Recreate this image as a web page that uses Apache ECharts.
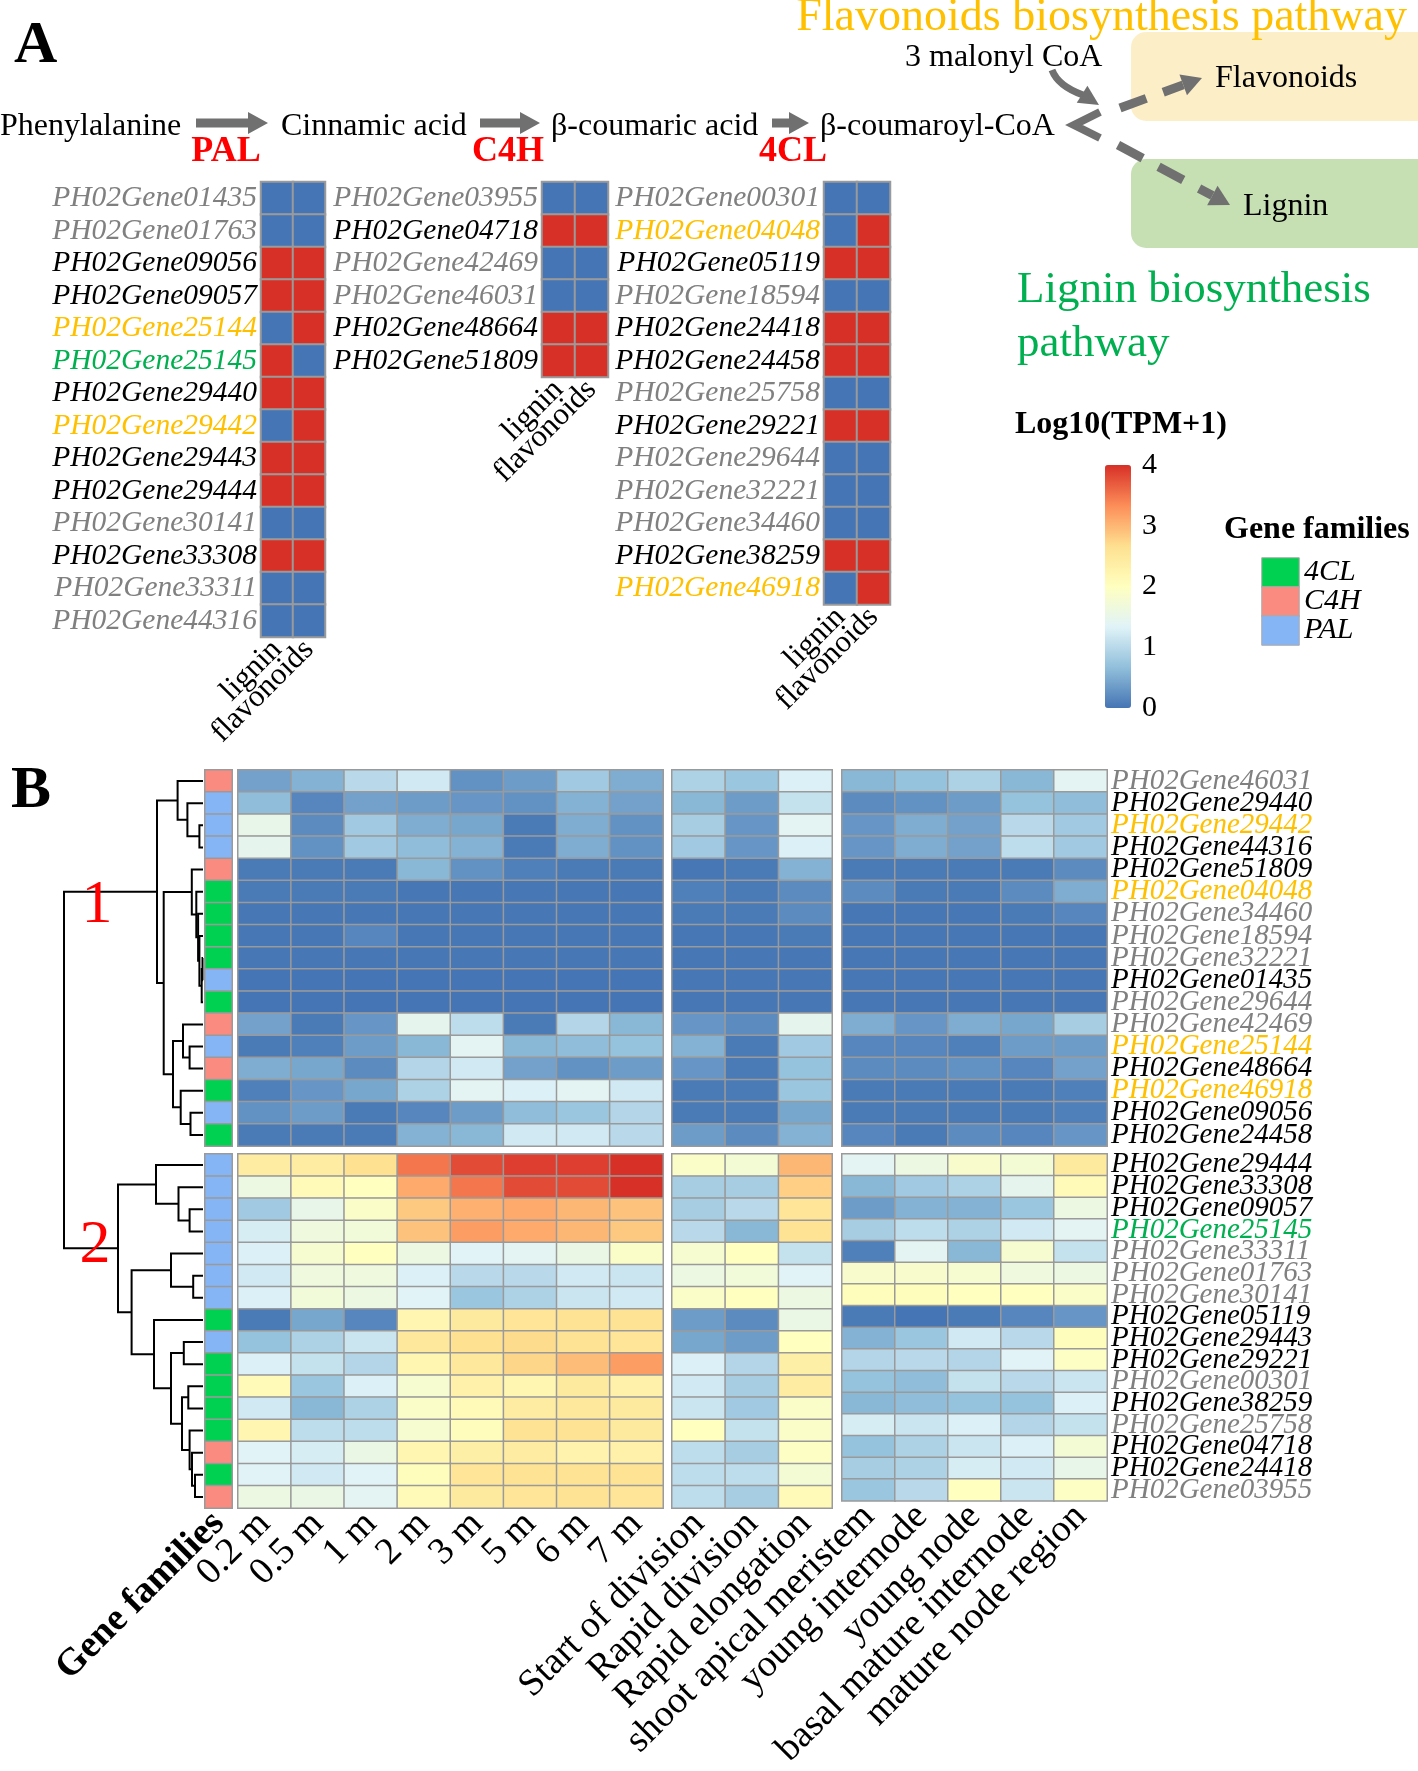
<!DOCTYPE html>
<html><head><meta charset="utf-8">
<script src="https://cdn.jsdelivr.net/npm/echarts@6/dist/echarts.min.js"></script>
<style>html,body{margin:0;padding:0;background:#fff}#c{width:1418px;height:1771px}</style>
</head><body><div id="c"></div>
<script>
// ---------------- DATA ----------------
const aColumns = ['lignin', 'flavonoids'];
const palGenes = ['PH02Gene01435','PH02Gene01763','PH02Gene09056','PH02Gene09057','PH02Gene25144','PH02Gene25145','PH02Gene29440','PH02Gene29442','PH02Gene29443','PH02Gene29444','PH02Gene30141','PH02Gene33308','PH02Gene33311','PH02Gene44316'];
const palValues = [[0,0],[0,0],[1,1],[1,1],[0,1],[1,0],[1,1],[0,1],[1,1],[1,1],[0,0],[1,1],[0,0],[0,0]];
const c4hGenes = ['PH02Gene03955','PH02Gene04718','PH02Gene42469','PH02Gene46031','PH02Gene48664','PH02Gene51809'];
const c4hValues = [[0,0],[1,1],[0,0],[0,0],[1,1],[1,1]];
const cl4Genes = ['PH02Gene00301','PH02Gene04048','PH02Gene05119','PH02Gene18594','PH02Gene24418','PH02Gene24458','PH02Gene25758','PH02Gene29221','PH02Gene29644','PH02Gene32221','PH02Gene34460','PH02Gene38259','PH02Gene46918'];
const cl4Values = [[0,0],[0,1],[1,1],[0,0],[1,1],[1,1],[0,0],[1,1],[0,0],[0,0],[0,0],[1,1],[0,1]];

const familyNames = ['4CL', 'C4H', 'PAL'];

const bGenes = ['PH02Gene46031','PH02Gene29440','PH02Gene29442','PH02Gene44316','PH02Gene51809','PH02Gene04048','PH02Gene34460','PH02Gene18594','PH02Gene32221','PH02Gene01435','PH02Gene29644','PH02Gene42469','PH02Gene25144','PH02Gene48664','PH02Gene46918','PH02Gene09056','PH02Gene24458',
  'PH02Gene29444','PH02Gene33308','PH02Gene09057','PH02Gene25145','PH02Gene33311','PH02Gene01763','PH02Gene30141','PH02Gene05119','PH02Gene29443','PH02Gene29221','PH02Gene00301','PH02Gene38259','PH02Gene25758','PH02Gene04718','PH02Gene24418','PH02Gene03955'];
const cluster1Size = 17;
// label colour class: g grey, k black, o orange, n green
const bLabelClass = ['g','k','o','k','k','o','g','g','g','k','g','g','o','k','o','k','k',
  'k','k','k','n','g','g','g','k','k','k','g','k','g','k','k','g'];

const stageCols = ['0.2 m','0.5 m','1 m','2 m','3 m','5 m','6 m','7 m'];
const zoneCols = ['Start of division','Rapid division','Rapid elongation'];
const tissueCols = ['shoot apical meristem','young internode','young node','basal mature internode','mature node region'];

const stageValues = [
  [0.4,0.55,1.0,1.2,0.25,0.35,0.8,0.5],
  [0.65,0.15,0.4,0.35,0.3,0.25,0.55,0.4],
  [1.5,0.2,0.8,0.5,0.45,0.05,0.5,0.25],
  [1.45,0.25,0.8,0.65,0.55,0.05,0.5,0.25],
  [0.05,0.05,0.05,0.6,0.25,0.1,0.05,0.05],
  [0.05,0.05,0.05,0.02,0.02,0.02,0.02,0.02],
  [0.02,0.02,0.02,0.02,0.02,0.02,0.02,0.02],
  [0.02,0.02,0.15,0.02,0.02,0.02,0.02,0.02],
  [0.02,0.02,0.02,0.02,0.02,0.02,0.02,0.02],
  [0,0,0,0,0,0,0,0],
  [0,0,0,0,0,0,0,0],
  [0.4,0.05,0.3,1.45,1.05,0.05,0.95,0.6],
  [0.05,0.1,0.35,0.6,1.4,0.6,0.65,0.7],
  [0.5,0.45,0.2,0.95,1.2,0.4,0.25,0.35],
  [0.1,0.3,0.45,0.9,1.4,1.3,1.4,1.2],
  [0.25,0.35,0.05,0.15,0.35,0.65,0.75,0.95],
  [0.05,0.05,0.05,0.55,0.6,1.2,1.2,1.0],
  [2.4,2.4,2.65,3.5,3.8,3.9,3.9,4.0],
  [1.6,2.1,2.0,3.1,3.5,3.8,3.8,4.0],
  [0.8,1.5,1.9,2.85,3.05,3.1,3.0,2.9],
  [1.25,1.65,1.7,2.9,3.2,3.1,3.0,2.85],
  [1.3,1.8,2.0,1.6,1.35,1.4,1.55,1.9],
  [1.2,1.65,1.65,1.3,1.0,1.0,1.2,1.15],
  [1.3,1.7,1.6,1.35,0.75,0.9,1.15,1.2],
  [0.05,0.45,0.15,2.2,2.45,2.55,2.6,2.6],
  [0.7,0.9,1.15,2.5,2.65,2.7,2.6,2.55],
  [1.3,1.1,0.95,2.2,2.5,2.75,2.95,3.2],
  [2.1,0.75,1.3,1.8,2.3,2.2,2.45,2.3],
  [1.2,0.6,0.9,1.9,2.1,2.4,2.5,2.45],
  [2.2,1.05,1.05,1.8,2.05,2.6,2.6,2.45],
  [1.35,1.25,1.55,2.2,2.35,2.4,2.25,2.3],
  [1.35,1.2,1.35,2.05,2.55,2.6,2.6,2.6],
  [1.6,1.55,1.4,2.1,2.45,2.55,2.6,2.55]
];
const zoneValues = [
  [0.9,0.75,1.3],[0.6,0.35,1.1],[0.85,0.3,1.4],[0.8,0.3,1.3],[0.02,0.05,0.55],[0.1,0.05,0.2],[0.05,0.05,0.2],[0.02,0.02,0.05],[0.02,0.02,0.02],[0.02,0.02,0.02],[0.02,0.02,0.02],
  [0.3,0.2,1.45],[0.55,0.05,0.8],[0.3,0.05,0.7],[0.05,0.05,0.75],[0.05,0.05,0.45],[0.35,0.2,0.55],
  [1.9,1.75,3.0],[0.85,0.85,2.8],[0.85,1.0,2.55],[1.0,0.6,2.6],[1.8,2.0,1.1],[1.6,1.7,1.35],[1.9,2.0,1.6],[0.35,0.2,1.55],[0.45,0.35,2.0],[1.3,0.95,2.35],[1.2,0.85,2.4],[1.15,0.8,1.9],[2.0,1.1,1.9],[1.05,0.85,1.95],[1.05,1.05,1.75],[1.05,0.85,2.1]
];
const tissueValues = [
  [0.6,0.7,0.9,0.6,1.4],[0.2,0.25,0.35,0.7,0.65],[0.3,0.5,0.4,1.0,0.8],[0.3,0.5,0.4,1.05,0.8],[0.05,0.05,0.05,0.05,0.2],[0.2,0.05,0.05,0.2,0.5],[0.02,0.02,0.02,0.05,0.15],[0.02,0.02,0.02,0.02,0.02],[0.02,0.02,0.02,0.02,0.02],[0.02,0.02,0.02,0.02,0.02],[0.02,0.02,0.02,0.02,0.02],
  [0.5,0.3,0.5,0.45,0.85],[0.15,0.15,0.1,0.35,0.35],[0.2,0.2,0.25,0.15,0.4],[0.05,0.05,0.05,0.05,0.1],[0.05,0.05,0.05,0.05,0.1],[0.15,0.05,0.2,0.15,0.3],
  [1.4,1.6,1.85,1.75,2.45],[0.6,0.8,0.9,1.45,2.1],[0.35,0.55,0.55,0.75,1.6],[0.85,1.05,0.9,1.2,1.4],[0.1,1.4,0.6,1.8,1.1],[1.85,1.85,1.8,1.65,1.6],[2.05,2.05,2.0,2.0,1.9],[0.05,0.0,0.05,0.15,0.3],[0.55,0.75,1.2,1.0,2.05],[0.95,1.0,0.95,1.35,1.95],[0.7,0.65,1.1,1.0,1.15],[0.6,0.65,0.7,0.7,1.3],[1.25,1.15,1.3,0.95,1.1],[0.7,0.9,1.15,1.3,1.75],[0.85,0.9,1.25,1.2,1.5],[0.75,1.0,2.0,1.15,1.95]
];
// dendrogram merges: [childA, childB, height]; leaves 0..32, internal nodes numbered from 33 in order
const dendroMerges = [
  [2,3,3.6],[1,33,15.6],[0,34,25.4],
  [8,9,0.5],[36,10,1.3],[7,37,3.6],[6,38,4.9],[5,39,6.7],[4,40,11.2],
  [12,13,13.4],[11,42,20],[15,16,12.5],[14,44,22.3],[43,45,30],[41,46,39.3],[35,47,46],
  [19,20,13.4],[18,49,24.5],[17,50,47],[22,23,9.8],[21,52,32],[25,26,19.2],[27,28,14.7],
  [31,32,8],[30,56,11],[29,57,13.4],[55,58,21],[54,59,32],[24,60,49],[53,61,71.4],[51,62,85],[48,63,139]
];

// ---------------- STYLE / LAYOUT ----------------
const SERIF = '"Liberation Serif", "Times New Roman", serif';
const heatColors = ['#4575B4','#91BFDB','#E0F3F8','#FFFFBF','#FEE090','#FC8D59','#D73027'];
const famColors = ['#00D150', '#F98B80', '#86B5F5'];
const labelColors = {g:'#808080', k:'#000000', o:'#FFC000', n:'#00B050'};
const GRAY = '#707070';

function rich(size){ const r={}; for (const k in labelColors) r[k]={color:labelColors[k], fontSize:size, fontStyle:'italic', fontFamily:SERIF}; return r; }
function aClass(v){ return v[0]&&v[1]?'k':(!v[0]&&!v[1]?'g':(v[1]?'o':'n')); }

const option = {animation:false, backgroundColor:'#fff', grid:[], xAxis:[], yAxis:[], series:[], visualMap:[], graphic:{elements:[]}};
function addGrid(g){ option.grid.push(Object.assign({show:false, containLabel:false}, g)); return option.grid.length-1; }
function catAxis(gi, data, extra){ return Object.assign({type:'category', gridIndex:gi, data, axisLine:{show:false}, axisTick:{show:false}, splitLine:{show:false}, axisLabel:{show:false}}, extra||{}); }

const aSeries=[], bSeries=[], famSeries=[];

// ---------- Part A heatmaps ----------
const aRowH = 32.5;
[{genes:palGenes, vals:palValues, left:261, w:64},
 {genes:c4hGenes, vals:c4hValues, left:542, w:66},
 {genes:cl4Genes, vals:cl4Values, left:824, w:66}].forEach(s=>{
  const gi = addGrid({left:s.left, top:182, width:s.w, height:s.genes.length*aRowH});
  option.xAxis.push(catAxis(gi, aColumns, {position:'bottom', axisLabel:{show:true, interval:0, rotate:45, margin:8, fontSize:31, fontFamily:SERIF, color:'#000'}}));
  const cls = s.vals.map(aClass);
  option.yAxis.push(catAxis(gi, s.genes, {inverse:true, axisLabel:{show:true, interval:0, margin:4, formatter:(v,i)=>'{'+cls[i]+'|'+v+'}', rich:rich(29.5)}}));
  const data=[]; s.vals.forEach((r,ri)=>r.forEach((v,ci)=>data.push([ci,ri,v])));
  aSeries.push(option.series.length);
  option.series.push({type:'heatmap', xAxisIndex:option.xAxis.length-1, yAxisIndex:option.yAxis.length-1, data, itemStyle:{borderColor:'#9a9a9a', borderWidth:2}, emphasis:{disabled:true}});
});

// ---------- Part B heatmaps ----------
const familyOf = g => palGenes.includes(g)?2:(c4hGenes.includes(g)?1:0);
const rowH = 22.12, topB = 770, gapB = 8;
const clusters = [{start:0, end:cluster1Size, top:topB},
                  {start:cluster1Size, end:bGenes.length, top:topB+cluster1Size*rowH+gapB}];
const blocks = [{cols:stageCols, vals:stageValues, left:238, w:425},
                {cols:zoneCols, vals:zoneValues, left:672, w:160},
                {cols:tissueCols, vals:tissueValues, left:842, w:265}];
clusters.forEach((c,ck)=>{
  const genes = bGenes.slice(c.start, c.end);
  const h = genes.length*rowH;
  const last = ck===clusters.length-1;
  // family annotation column
  let gi = addGrid({left:205, top:c.top, width:27, height:h});
  option.xAxis.push(catAxis(gi, ['Gene families'], {position:'bottom', axisLabel:{show:last, interval:0, rotate:45, margin:10, fontSize:38, fontWeight:'bold', fontFamily:SERIF, color:'#000'}}));
  option.yAxis.push(catAxis(gi, genes, {inverse:true}));
  famSeries.push(option.series.length);
  option.series.push({type:'heatmap', xAxisIndex:option.xAxis.length-1, yAxisIndex:option.yAxis.length-1,
    data: genes.map((g,i)=>[0,i,familyOf(g)]), itemStyle:{borderColor:'#9a9a9a', borderWidth:1.5}, emphasis:{disabled:true}});
  blocks.forEach((b,bk)=>{
    gi = addGrid({left:b.left, top:c.top, width:b.w, height:h});
    option.xAxis.push(catAxis(gi, b.cols, {position:'bottom', axisLabel:{show:last, interval:0, rotate:45, margin:10, fontSize:38, fontFamily:SERIF, color:'#000'}}));
    const showY = bk===blocks.length-1;
    option.yAxis.push(catAxis(gi, genes, {inverse:true, position:'right', axisLabel:{show:showY, interval:0, margin:4,
      formatter:(v,i)=>'{'+bLabelClass[c.start+i]+'|'+v+'}', rich:rich(29)}}));
    const data=[];
    for (let r=c.start;r<c.end;r++) b.vals[r].forEach((v,ci)=>data.push([ci,r-c.start,v]));
    bSeries.push(option.series.length);
    option.series.push({type:'heatmap', xAxisIndex:option.xAxis.length-1, yAxisIndex:option.yAxis.length-1, data,
      itemStyle:{borderColor:'#9a9a9a', borderWidth:1.5}, emphasis:{disabled:true}});
  });
});

// ---------- Dendrogram ----------
const dendTotal = bGenes.length*rowH + gapB;
const nodeH=[], nodeY=[];
bGenes.forEach((g,i)=>{ nodeH[i]=0; nodeY[i]= i<cluster1Size ? (i+0.5)*rowH : cluster1Size*rowH+gapB+(i-cluster1Size+0.5)*rowH; });
const elbows=[];
dendroMerges.forEach(([a,b,hh],k)=>{ const id=bGenes.length+k; nodeH[id]=hh; nodeY[id]=(nodeY[a]+nodeY[b])/2;
  elbows.push([[nodeH[a],nodeY[a]],[hh,nodeY[a]],[hh,nodeY[b]],[nodeH[b],nodeY[b]]]); });
const maxH = Math.max(...dendroMerges.map(m=>m[2]));
let dg = addGrid({left:64, top:topB, width:139, height:dendTotal});
option.xAxis.push({type:'value', gridIndex:dg, min:0, max:maxH, inverse:true, show:false});
option.yAxis.push({type:'value', gridIndex:dg, min:0, max:dendTotal, inverse:true, show:false});
option.series.push({type:'custom', xAxisIndex:option.xAxis.length-1, yAxisIndex:option.yAxis.length-1,
  data: elbows.map((e,i)=>[e[1][0], (e[1][1]+e[2][1])/2, i]),
  renderItem:(params, api)=>{ const e=elbows[params.dataIndex];
    return {type:'polyline', shape:{points:e.map(p=>api.coord(p))}, style:{stroke:'#000', lineWidth:2, fill:null}}; },
  silent:true});

// ---------- colour bar ticks ----------
let cg = addGrid({left:1131, top:465, width:1, height:243});
option.xAxis.push({type:'value', gridIndex:cg, show:false, min:0, max:1});
option.yAxis.push({type:'value', gridIndex:cg, min:0, max:4, interval:1, position:'right',
  axisLine:{show:false}, axisTick:{show:false}, splitLine:{show:false},
  axisLabel:{show:true, margin:10, fontSize:30, fontFamily:SERIF, color:'#000'}});

// ---------- family legend ----------
let lg = addGrid({left:1262, top:558, width:37, height:87});
option.xAxis.push(catAxis(lg, ['f']));
option.yAxis.push(catAxis(lg, familyNames, {inverse:true, position:'right', axisLabel:{show:true, interval:0, margin:5, fontSize:30, fontStyle:'italic', fontFamily:SERIF, color:'#000'}}));
famSeries.push(option.series.length);
option.series.push({type:'heatmap', xAxisIndex:option.xAxis.length-1, yAxisIndex:option.yAxis.length-1,
  data: familyNames.map((f,i)=>[0,i,i]), itemStyle:{borderColor:'#aaa', borderWidth:1}, emphasis:{disabled:true}});

// ---------- visual maps ----------
option.visualMap = [
  {type:'continuous', min:0, max:4, seriesIndex:bSeries, inRange:{color:heatColors}, calculable:false, show:true,
   left:1105, top:465, itemWidth:26, itemHeight:243, padding:0, hoverLink:false, textStyle:{fontSize:0}},
  {type:'piecewise', show:false, seriesIndex:aSeries, pieces:[{min:-0.5,max:0.5,color:'#4575B4'},{min:0.5,max:1.5,color:'#D73027'}]},
  {type:'piecewise', show:false, seriesIndex:famSeries, pieces:familyNames.map((f,i)=>({min:i-0.5,max:i+0.5,color:famColors[i]}))}
];

// ---------- annotations (pathway diagram, titles) ----------
const G = option.graphic.elements;
function txt(text, x, y, font, fill, align, z){ G.push({type:'text', x, y, z:z||10, style:{text, font, fill:fill||'#000', textAlign:align||'left', textVerticalAlign:'middle'}}); }
function rArrow(x0,x1,y){ G.push({type:'polygon', z:5, shape:{points:[[x0,y-4.5],[x1-20,y-4.5],[x1-20,y-11],[x1,y],[x1-20,y+11],[x1-20,y+4.5],[x0,y+4.5]]}, style:{fill:GRAY}}); }
function head(tip, from, len, half){ const dx=tip[0]-from[0], dy=tip[1]-from[1], n=Math.hypot(dx,dy), ux=dx/n, uy=dy/n;
  const bx=tip[0]-ux*len, by=tip[1]-uy*len;
  G.push({type:'polygon', z:5, shape:{points:[tip,[bx-uy*half,by+ux*half],[bx+uy*half,by-ux*half]]}, style:{fill:GRAY}});
  return [bx,by]; }
function dashArrow(from, tip){ const base=head(tip, from, 20, 11);
  G.push({type:'line', z:5, shape:{x1:from[0],y1:from[1],x2:base[0],y2:base[1]}, style:{stroke:GRAY, lineWidth:9, lineDash:[28,18]}}); }

G.push({type:'rect', z:1, shape:{x:1131,y:32,width:300,height:89,r:15}, style:{fill:'#FCEFC8'}});
G.push({type:'rect', z:1, shape:{x:1131,y:159,width:300,height:89,r:15}, style:{fill:'#C6E0B4'}});

txt('A', 14, 46, 'bold 60px '+SERIF);
txt('B', 11, 791, 'bold 60px '+SERIF);
const F32 = 'normal 32px '+SERIF;
txt('Phenylalanine', 0, 127, F32);
txt('Cinnamic acid', 281, 127, F32);
txt('β-coumaric acid', 551, 127, F32);
txt('β-coumaroyl-CoA', 820, 127, F32);
rArrow(196, 268, 123); rArrow(480, 540, 123); rArrow(772, 809, 123);
const RB = 'bold 36px '+SERIF;
txt('PAL', 226, 152, RB, '#FF0000', 'center');
txt('C4H', 508, 152, RB, '#FF0000', 'center');
txt('4CL', 793, 152, RB, '#FF0000', 'center');
txt('3 malonyl CoA', 905, 58, F32);
txt('Flavonoids', 1215, 79, F32);
txt('Lignin', 1243, 207, F32);
txt('Flavonoids biosynthesis pathway', 1407, 18, 'normal 46px '+SERIF, '#FFC000', 'right');
txt('Lignin biosynthesis', 1017, 290, 'normal 45px '+SERIF, '#00B050');
txt('pathway', 1017, 344, 'normal 45px '+SERIF, '#00B050');
txt('Log10(TPM+1)', 1015, 425, 'bold 32px '+SERIF);
txt('Gene families', 1224, 530, 'bold 32px '+SERIF);
txt('1', 97, 906, 'normal 62px '+SERIF, '#FF0000', 'center');
txt('2', 95, 1246, 'normal 62px '+SERIF, '#FF0000', 'center');

// chevron and pathway branch arrows
G.push({type:'polyline', z:5, shape:{points:[[1100,112],[1074,125],[1100,138]]}, style:{stroke:GRAY, lineWidth:8, fill:null}});
G.push({type:'bezierCurve', z:5, shape:{x1:1052,y1:70,cpx1:1058,cpy1:86,x2:1083,y2:95}, style:{stroke:GRAY, lineWidth:7, fill:null}});
head([1099,105],[1080,93],20,10);
dashArrow([1120,108],[1202,78]);
dashArrow([1118,145],[1230,205]);

echarts.init(document.getElementById('c'), null, {renderer:'canvas'}).setOption(option);
</script></body></html>
